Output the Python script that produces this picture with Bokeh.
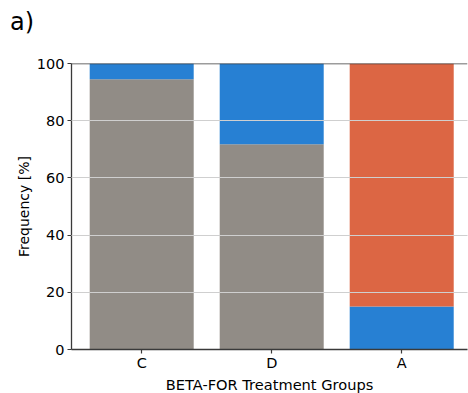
from bokeh.plotting import figure
from bokeh.layouts import column
from bokeh.models import ColumnDataSource, Range1d, FixedTicker, Span, Title, Div
from bokeh.embed import file_html
from bokeh.resources import INLINE

# Treatment groups and the share of each class per group (percent)
categories = ["C", "D", "A"]
share_grey = [94.5, 71.8, 0.0]
share_blue = [5.5, 28.2, 15.0]
share_orange = [0.0, 0.0, 85.0]
y_ticks = [0, 20, 40, 60, 80, 100]

xpos = list(range(len(categories)))
source = ColumnDataSource(dict(x=xpos, grey=share_grey, blue=share_blue, orange=share_orange))

FONT = "DejaVu Sans"
AXIS_COLOR = "#3a3a3a"
TAG_HEIGHT = 33

# panel tag above the chart
tag = Div(
    text="a)", width=468, height=TAG_HEIGHT, margin=0,
    styles={
        "font-family": FONT, "font-size": "24px", "line-height": "24px",
        "color": "black", "padding-left": "10px", "padding-top": "10px",
        "box-sizing": "border-box",
    },
)

p = figure(
    width=468, height=393 - TAG_HEIGHT,
    x_range=Range1d(-0.54, 2.506), y_range=Range1d(0, 100),
    output_backend="svg", toolbar_location=None,
    min_border_left=71, min_border_right=1, min_border_top=63 - TAG_HEIGHT, min_border_bottom=44,
    margin=0,
)
p.outline_line_color = None
p.background_fill_color = "white"
p.border_fill_color = "white"

p.vbar_stack(
    ["grey", "blue", "orange"], x="x", width=0.8, source=source,
    color=["#918c86", "#2780d3", "#dc6644"], line_color=None,
)

# frame top edge
p.add_layout(Span(location=100, dimension="width", line_color=AXIS_COLOR, line_width=1.3, level="overlay"))

p.xgrid.visible = False
p.ygrid.grid_line_color = "#cfcfcf"
p.ygrid.grid_line_width = 1
p.ygrid.level = "overlay"
p.ygrid.ticker = FixedTicker(ticks=y_ticks)

p.yaxis.ticker = FixedTicker(ticks=y_ticks)
p.xaxis.ticker = FixedTicker(ticks=xpos)
p.xaxis.major_label_overrides = {i: c for i, c in enumerate(categories)}

for ax in (p.xaxis[0], p.yaxis[0]):
    ax.axis_line_color = AXIS_COLOR
    ax.axis_line_width = 1.3
    ax.major_tick_line_color = AXIS_COLOR
    ax.major_tick_line_width = 1.2
    ax.major_tick_in = 0
    ax.major_tick_out = 4
    ax.minor_tick_line_color = None
    ax.major_label_text_font = FONT
    ax.major_label_text_font_size = "14.5px"
    ax.major_label_text_color = "black"
    ax.axis_label_text_font = FONT
    ax.axis_label_text_font_style = "normal"
    ax.axis_label_text_color = "black"

p.yaxis.axis_label = "Frequency [%]"
p.yaxis.axis_label_text_font_size = "14px"
p.xaxis.major_label_standoff = 1
p.yaxis.major_label_standoff = 3
p.yaxis.axis_label_standoff = 2

# x-axis title under the tick labels
p.add_layout(Title(
    text="BETA-FOR Treatment Groups", align="center", offset=1.5, standoff=0,
    text_font=FONT, text_font_size="14.6px", text_font_style="normal", text_color="black",
), "below")

layout = column(tag, p, spacing=0, margin=0)
open("out.html", "w").write(file_html(layout, INLINE))
